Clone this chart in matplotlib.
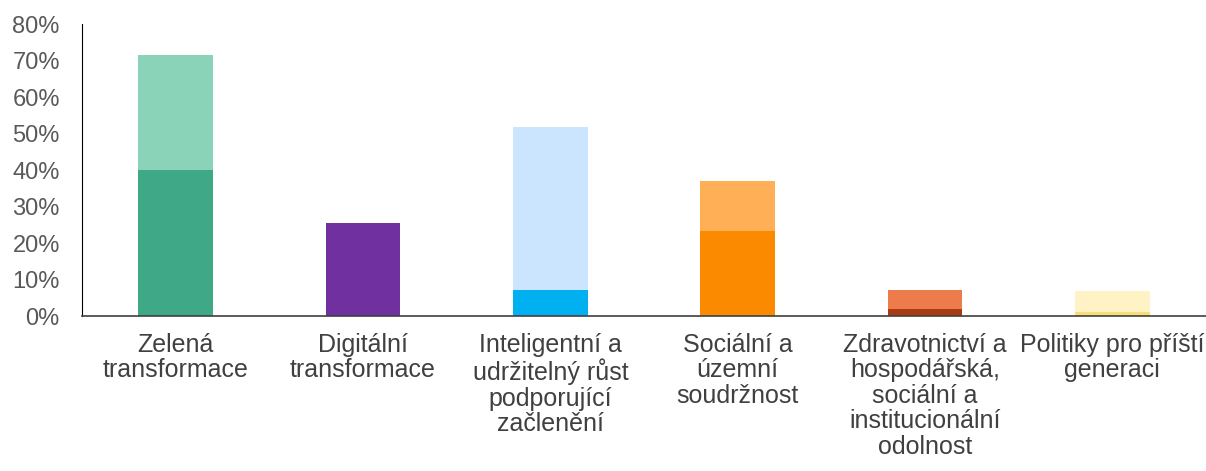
import matplotlib
matplotlib.use("Agg")
import matplotlib.pyplot as plt
from matplotlib.ticker import FuncFormatter

categories = ["Zelená\ntransformace", "Digitální\ntransformace",
              "Inteligentní a\nudržitelný růst\npodporující\nzačlenění",
              "Sociální a\núzemní\nsoudržnost",
              "Zdravotnictví a\nhospodářská,\nsociální a\ninstitucionální\nodolnost",
              "Politiky pro příští\ngeneraci"]
bottom_vals = [40.1, 25.5, 7.1, 23.4, 1.9, 1.1]
total_vals = [71.4, 25.5, 51.9, 37.1, 7.1, 6.9]
bottom_colors = ["#3FA886", "#7030A0", "#00B0F0", "#FB8A00", "#A93B14", "#F9DE75"]
top_colors = ["#8AD3B8", "#7030A0", "#CCE5FF", "#FFB056", "#ED7B4B", "#FFF2C4"]
yticks = [0, 10, 20, 30, 40, 50, 60, 70, 80]

plt.rcParams['font.family'] = ['Liberation Sans', 'DejaVu Sans']
fig = plt.figure(figsize=(12.06, 4.71), dpi=100)
ax = fig.add_axes([0.068, 0.329, 0.932, 0.62])

x = list(range(len(categories)))
top_seg = [t - b for t, b in zip(total_vals, bottom_vals)]
ax.bar(x, bottom_vals, width=0.4, color=bottom_colors, zorder=2)
ax.bar(x, top_seg, bottom=bottom_vals, width=0.4, color=top_colors, zorder=2)

ax.set_xlim(-0.5, len(categories) - 0.5)
ax.set_ylim(0, 80)
ax.set_yticks(yticks)
ax.yaxis.set_major_formatter(FuncFormatter(lambda v, p: f"{int(v)}%"))
ax.set_xticks(x)
ax.set_xticklabels(categories, fontsize=18, color="#404040", linespacing=1.08)
ax.tick_params(axis='y', length=0, labelsize=17, labelcolor="#595959", pad=16)
ax.tick_params(axis='x', length=0, pad=12)
for s in ["top", "right"]:
    ax.spines[s].set_visible(False)
ax.spines["left"].set_color("black")
ax.spines["bottom"].set_color("#404040")
ax.spines["bottom"].set_linewidth(1.2)

fig.savefig("out.png", dpi=100)
